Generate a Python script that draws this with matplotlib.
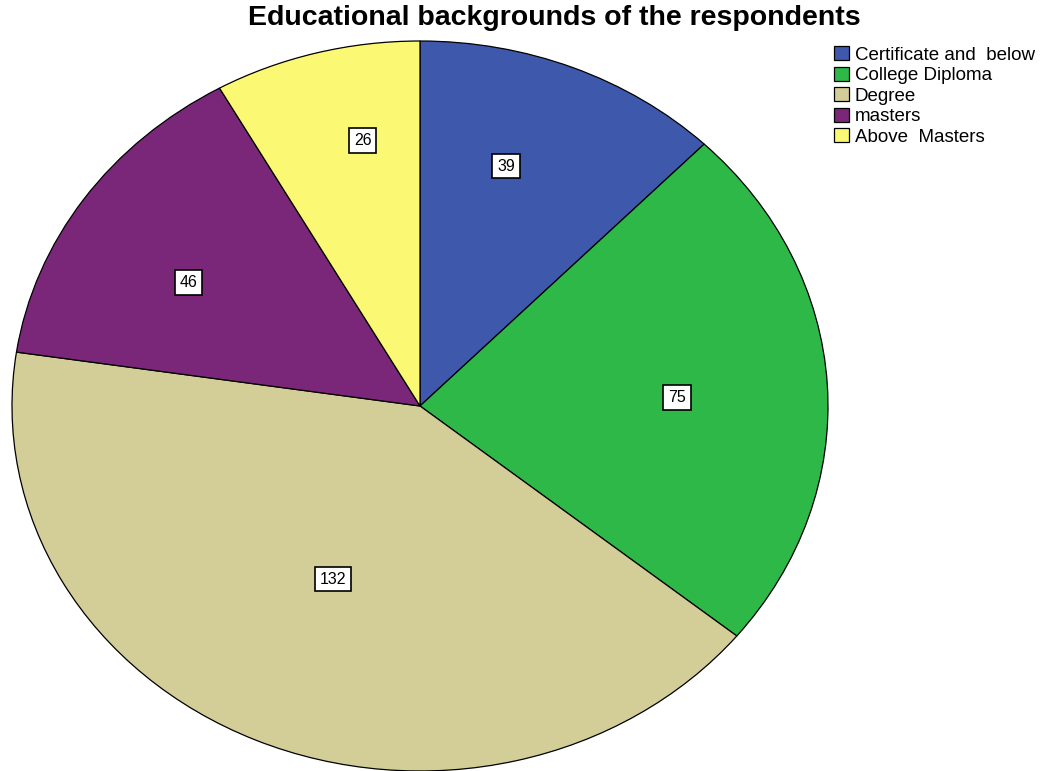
import numpy as np
import matplotlib.pyplot as plt

plt.rcParams['font.family'] = ['Liberation Sans', 'DejaVu Sans']

# data
categories = ['Certificate and  below', 'College Diploma', 'Degree', 'masters', 'Above  Masters']
counts = [39, 75, 132, 46, 26]
colors = ['#3E58AC', '#2EB848', '#D3CE97', '#7B2779', '#FBF873']

# where each value label sits: radius (fraction) and angle shift from wedge middle (deg)
label_r = [0.69, 0.63, 0.52, 0.66, 0.74]
label_shift = [4.3, -1.3, -0.4, 3.7, -3.8]

fig = plt.figure(figsize=(10.44, 7.71), dpi=100)
ax = fig.add_axes([12 / 1044, 0.0, 816 / 1044, 730 / 771])

wedges, _ = ax.pie(counts, colors=colors, startangle=90, counterclock=False,
                   wedgeprops=dict(edgecolor='black', linewidth=0.9))
ax.set_aspect('auto')
ax.set_xlim(-1, 1)
ax.set_ylim(-1, 1)

for w, n, r, s in zip(wedges, counts, label_r, label_shift):
    mid = np.deg2rad((w.theta1 + w.theta2) / 2 + s)
    ax.text(r * np.cos(mid), r * np.sin(mid), str(n), ha='center', va='center',
            fontsize=11.5, bbox=dict(boxstyle='square,pad=0.3', fc='white', ec='black', lw=1.2))

fig.suptitle('Educational backgrounds of the respondents', fontsize=20.5,
             fontweight='bold', x=554 / 1044, y=1 - 18 / 771, va='center')

fig.legend(wedges, categories, loc='upper left', bbox_to_anchor=(821 / 1044, 1 - 33 / 771),
           frameon=False, fontsize=13.5, handlelength=0.8, handleheight=0.8,
           handletextpad=0.3, labelspacing=0.15, borderpad=0.2)

fig.savefig('out.png', dpi=100)
